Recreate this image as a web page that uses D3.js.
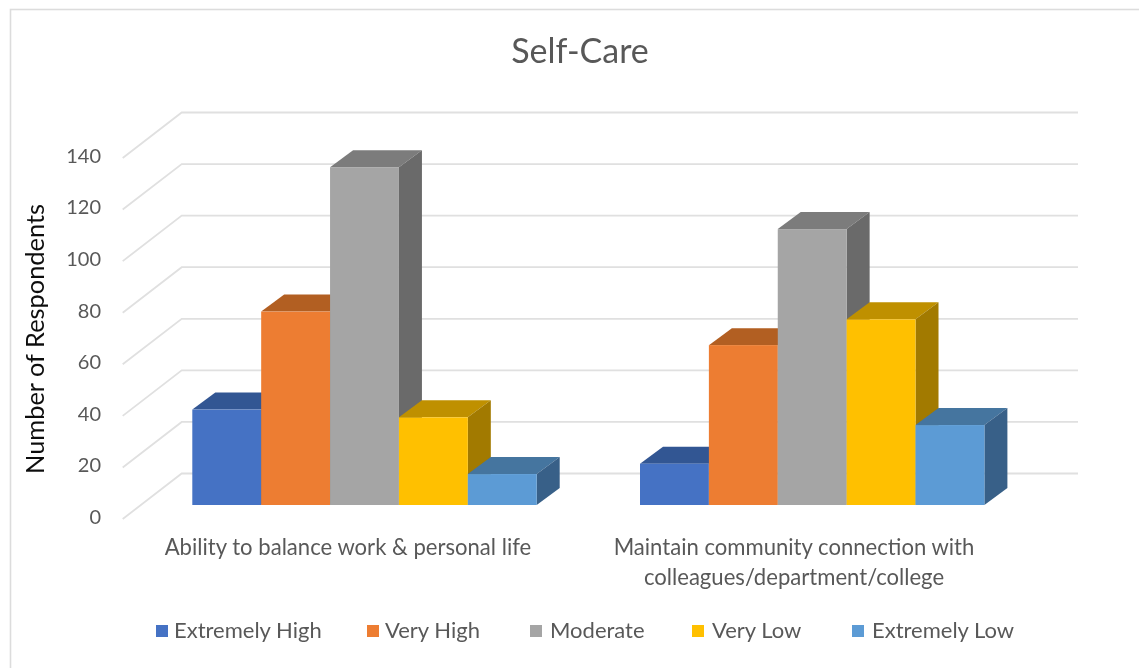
<!DOCTYPE html>
<html><head><meta charset="utf-8">
<script src="https://cdn.jsdelivr.net/npm/d3@7"></script>
<style>html,body{margin:0;padding:0;background:#fff;overflow:hidden}svg{display:block}</style>
</head><body><svg id="c" width="1139" height="668"></svg>
<script>
const categories = ["Ability to balance work & personal life", "Maintain community connection with colleagues/department/college"];
const categoryLines = [["Ability to balance work & personal life"], ["Maintain community connection with", "colleagues/department/college"]];
const seriesNames = ["Extremely High", "Very High", "Moderate", "Very Low", "Extremely Low"];
const extremelyHigh = [37, 16];
const veryHigh = [75, 62];
const moderate = [131, 107];
const veryLow = [34, 72];
const extremelyLow = [12, 31];
const seriesValues = [extremelyHigh, veryHigh, moderate, veryLow, extremelyLow];
const frontColors = ["#4472c4", "#ed7d31", "#a5a5a5", "#ffc000", "#5b9bd5"];
const topColors = ["#335693", "#b25e22", "#7c7c7c", "#bf9000", "#44749f"];
const sideColors = ["#2a4778", "#8e4b1c", "#6a6a6a", "#a27a00", "#386088"];
const yTicks = [0, 20, 40, 60, 80, 100, 120, 140];

const svg = d3.select("#c");
const font = "Lato, sans-serif";
const defs = svg.append("defs");
defs.append("filter").attr("id", "soft").attr("x", "-5%").attr("y", "-5%").attr("width", "110%").attr("height", "110%")
  .append("feGaussianBlur").attr("stdDeviation", 0.6);
const root = svg.append("g").attr("filter", "url(#soft)");

root.append("rect").attr("x", 10.5).attr("y", 9.5).attr("width", 1180).attr("height", 720)
  .attr("fill", "#fff").attr("stroke", "#dcdcdc").attr("stroke-width", 1.6);

root.append("text").attr("x", 580).attr("y", 63).attr("text-anchor", "middle")
  .attr("font-family", font).attr("font-size", 34).attr("fill", "#595959").text("Self-Care");

const y = d3.scaleLinear().domain([0, 140]).range([519, 158]);
const wallDx = 59, wallDy = -45.5, wallRight = 1078, frontLeft = 122.7;
const grid = root.append("g");
yTicks.forEach(t => {
  grid.append("path")
    .attr("d", d3.line()([[frontLeft, y(t)], [frontLeft + wallDx, y(t) + wallDy], [wallRight, y(t) + wallDy]]))
    .attr("fill", "none").attr("stroke", "#e0e0e0").attr("stroke-width", 1.8);
});

const axis = d3.axisLeft(y).tickValues(yTicks).tickSize(0).tickPadding(0);
const axG = root.append("g").attr("transform", "translate(101,0)").call(axis);
axG.select(".domain").remove();
axG.selectAll("text").attr("font-family", font).attr("font-size", 20).attr("fill", "#595959")
  .attr("dy", "0.32em").attr("y", -2);

root.append("text").attr("transform", "translate(44,339) rotate(-90)").attr("text-anchor", "middle")
  .attr("font-family", font).attr("font-size", 25.4).attr("fill", "#111").text("Number of Respondents");

const x0 = d3.scaleBand().domain(categories).range([136.45, 136.45 + 447.7 * 2]);
const x1 = d3.scaleBand().domain(seriesNames).range([55.85, 55.85 + 344.4]);
const h = v => y(0) - y(v);
const baseY = 505, dx = 23, dy = -17;

categories.forEach((cat, ci) => {
  const g = root.append("g");
  seriesNames.forEach((name, si) => {
    const v = seriesValues[si][ci];
    const xl = x0(cat) + x1(name), w = x1.bandwidth(), top = baseY - h(v);
    const xr = xl + w;
    g.append("path").attr("fill", topColors[si])
      .attr("d", d3.line()([[xl, top], [xl + dx, top + dy], [xr + dx, top + dy], [xr, top]]) + "Z");
    g.append("path").attr("fill", sideColors[si])
      .attr("d", d3.line()([[xr, top], [xr + dx, top + dy], [xr + dx, baseY + dy], [xr, baseY]]) + "Z");
    g.append("rect").attr("fill", frontColors[si]).attr("x", xl).attr("y", top).attr("width", w).attr("height", baseY - top);
  });
});

const labelX = [348, 794], labelY = [555, 585];
categoryLines.forEach((lines, ci) => {
  lines.forEach((s, li) => {
    root.append("text").attr("x", labelX[ci]).attr("y", labelY[li]).attr("text-anchor", "middle")
      .attr("font-family", font).attr("font-size", 22.1).attr("fill", "#595959").text(s);
  });
});

const legX = [156, 367, 530, 692, 852], legTextX = [174, 385, 550, 712, 872];
seriesNames.forEach((n, i) => {
  root.append("rect").attr("x", legX[i]).attr("y", 625).attr("width", 12).attr("height", 12).attr("fill", frontColors[i]);
  root.append("text").attr("x", legTextX[i]).attr("y", 638).attr("font-family", font).attr("font-size", 22)
    .attr("fill", "#595959").text(n);
});
</script></body></html>
